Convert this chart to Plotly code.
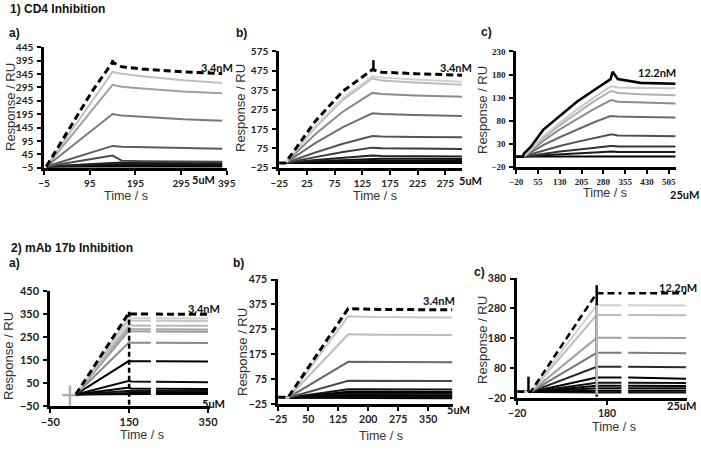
import plotly.graph_objects as go

W, H = 701, 451

# ------------------------------------------------------------------ data
# 1) CD4 inhibition, panel a  (first row = 3.4nM, last row = 5uM)
T_1A = [0, 50, 100, 145, 165, 210, 300, 385]
R_1A = [
    [0, 140, 280, 389, 372, 364, 353, 347],
    [0, 122, 243, 353, 346, 337, 322, 312],
    [0, 104, 208, 305, 298, 291, 280, 273],
    [0, 67, 133, 196, 190, 185, 176, 171],
    [0, 26, 52, 77, 74, 72, 69, 66],
    [0, 14, 28, 41, 22, 20, 19, 18],
    [0, 5, 10, 15, 15, 15, 14, 14],
    [0, 3, 6, 9, 9, 9, 9, 9],
    [0, 1, 3, 4, 5, 5, 4, 4],
    [0, 0, 0, 0, 0, 0, 0, 0],
]
# panel b
T_1B = [-25, -14, 40, 90, 143, 160, 220, 305]
R_1B = [
    [0, 0, 215, 370, 481, 468, 460, 452],
    [0, 0, 190, 335, 447, 440, 430, 418],
    [0, 0, 182, 325, 435, 425, 415, 403],
    [0, 0, 148, 265, 361, 355, 348, 341],
    [0, 0, 102, 185, 256, 252, 247, 242],
    [0, 0, 54, 99, 139, 136, 134, 132],
    [0, 0, 30, 56, 79, 76, 74, 72],
    [0, 0, 15, 27, 38, 36, 34, 33],
    [0, 0, 9, 16, 22, 22, 22, 21],
    [0, 0, 5, 9, 12, 12, 12, 12],
    [0, 0, 2, 4, 5, 5, 5, 5],
    [0, 0, 0, 0, 0, 0, 0, 0],
]
# panel c
T_1C = [-20, 4, 6, 30, 73, 130, 189, 250, 305, 312, 330, 408, 528]
R_1C = [
    [2, 2, 8, 23, 60, 91, 121, 147, 170, 186, 170, 162, 160],
    [2, 2, 2, 17, 45, 75, 104, 131, 154, 154, 152, 151, 150],
    [2, 2, 2, 16, 42, 70, 97, 123, 144, 144, 140, 137, 135],
    [2, 2, 2, 14, 36, 61, 84, 106, 124, 124, 121, 119, 117],
    [2, 2, 2, 11, 27, 44, 61, 77, 90, 90, 89, 88, 87],
    [2, 2, 2, 7, 15, 25, 34, 43, 50, 50, 48, 47, 46],
    [2, 2, 2, 4, 8, 13, 17, 22, 25, 25, 24, 24, 24],
    [2, 2, 2, 3, 5, 7, 9, 11, 13, 13, 12, 12, 12],
    [2, 2, 2, 2, 2, 2, 2, 2, 2, 2, 2, 2, 2],
]
# 2) mAb 17b inhibition, panel a
T_2A = [15, 150, 155, 205, 210, 218, 350]
R_2A = [
    [0, 358, 352, 351, None, 351, 350],
    [0, 340, 334, 333, None, 333, 332],
    [0, 328, 323, 322, None, 322, 321],
    [0, 305, 301, 300, None, 300, 300],
    [0, 290, 286, 285, None, 285, 284],
    [0, 280, 276, 275, None, 275, 274],
    [0, 228, 226, 226, None, 226, 225],
    [0, 147, 145, 145, None, 145, 144],
    [0, 60, 57, 56, None, 55, 53],
    [0, 30, 26, 25, None, 25, 24],
    [0, 18, 16, 15, None, 15, 15],
    [0, 8, 8, 8, None, 8, 8],
    [0, 2, 2, 2, None, 2, 2],
]
BASE_2A_T = [-20, 20]
BASE_2A_R = [-3, -3]
# panel b
T_2B = [-25, 0, 150, 215, 410]
R_2B = [
    [2, 2, 358, 355, 353],
    [0, 0, 327, 324, 322],
    [0, 0, 255, 253, 252],
    [0, 0, 144, 143, 142],
    [0, 0, 68, 68, 67],
    [0, 0, 34, 34, 33],
    [0, 0, 24, 24, 23],
    [0, 0, 18, 17, 17],
    [0, 0, 11, 11, 10],
    [0, 0, 4, 4, 4],
    [0, 0, -2, -2, -2],
]
# panel c
T_2C = [-20, 5, 10, 157, 160, 212, 218, 227, 290, 356]
R_2C = [
    [1, 1, 0, 331, 331, 331, None, 331, 331, 331],
    [1, 1, 0, 291, 291, 291, None, 291, 291, 290],
    [1, 1, 0, 258, 258, 258, None, 258, 258, 257],
    [1, 1, 0, 182, 182, 182, None, 182, 182, 181],
    [1, 1, 0, 131, 131, 131, None, 131, 131, 130],
    [1, 1, 0, 84, 84, 84, None, 84, 84, 83],
    [1, 1, 0, 48, 48, 48, None, 48, 46, 44],
    [1, 1, 0, 31, 31, 31, None, 31, 31, 30],
    [1, 1, 0, 21, 21, 21, None, 21, 21, 20],
    [1, 1, 0, 12, 12, 12, None, 12, 12, 12],
    [1, 1, 0, 4, 4, 4, None, 4, 4, 4],
    [1, 1, 0, -2, -2, -2, None, -2, -2, -2],
]
# injection artefacts (time, low RU, high RU)
SPIKES_1A = [(145, 380, 398)]
SPIKES_1B = [(145, 481, 530)]
SPIKES_2A = [(0, -50, 40), (150, -45, 365)]
SPIKES_2C = [(5, 0, 51), (157, -16, 358), (157, -10, 291)]

# ------------------------------------------------------------------ styles
C_1A = ["#000000", "#c0c0c0", "#a0a0a0", "#7a7a7a", "#5c5c5c", "#4a4a4a",
        "#1e1e1e", "#141414", "#0a0a0a", "#000000"]
C_1B = ["#000000", "#d2d2d2", "#bcbcbc", "#8a8a8a", "#6e6e6e", "#555555",
        "#3a3a3a", "#222222", "#111111", "#0a0a0a", "#050505", "#000000"]
C_1C = ["#000000", "#c8c8c8", "#b0b0b0", "#8c8c8c", "#6a6a6a", "#505050",
        "#333333", "#1a1a1a", "#000000"]
C_2A = ["#000000", "#d0d0d0", "#c4c4c4", "#b4b4b4", "#a8a8a8", "#9a9a9a",
        "#8a8a8a", "#000000", "#0a0a0a", "#000000", "#111111", "#000000", "#0a0a0a"]
C_2B = ["#000000", "#c8c8c8", "#bcbcbc", "#6a6a6a", "#4a4a4a", "#111111",
        "#000000", "#111111", "#000000", "#0a0a0a", "#000000"]
C_2C = ["#000000", "#d0d0d0", "#bdbdbd", "#a0a0a0", "#7a7a7a", "#2a2a2a",
        "#000000", "#111111", "#000000", "#0a0a0a", "#000000", "#111111"]
SPIKE_C_2A = ["#b0b0b0", "#000000"]
SPIKE_C_2C = ["#000000", "#000000", "#bdbdbd"]

SANS = "Liberation Sans"
TICKF = "Lato"
SERIF = "Liberation Serif"

# panel boxes in pixels: (left, right), (top, bottom)
PANELS = [
    dict(key="1a", T=T_1A, R=R_1A, C=C_1A, S=SPIKES_1A, SC=["#000000"],
         px=(44, 227), py=(47, 168), xr=[-5, 395.5], yr=[-5.5, 446],
         xt0=-5, xdt=100, yt0=-5, ydt=50, tf=TICKF, ts=10, dashw=3),
    dict(key="1b", T=T_1B, R=R_1B, C=C_1B, S=SPIKES_1B, SC=["#000000"],
         px=(279, 462), py=(51, 168), xr=[-25.5, 305], yr=[-26, 577],
         xt0=-25, xdt=50, yt0=-25, ydt=100, tf=TICKF, ts=10, dashw=3),
    dict(key="1c", T=T_1C, R=R_1C, C=C_1C, S=[], SC=[],
         px=(516, 676), py=(51, 167), xr=[-20.5, 530], yr=[-20.5, 231],
         xt0=-20, xdt=75, yt0=-20, ydt=50, tf=SERIF, ts=9, dashw=None),
    dict(key="2a", T=T_2A, R=R_2A, C=C_2A, S=SPIKES_2A, SC=SPIKE_C_2A,
         px=(50, 210), py=(291, 406), xr=[-50.5, 355], yr=[-50.5, 452],
         xt0=-50, xdt=200, yt0=-50, ydt=100, tf=TICKF, ts=11, dashw=3),
    dict(key="2b", T=T_2B, R=R_2B, C=C_2B, S=[], SC=[],
         px=(278, 453), py=(279, 404), xr=[-25.5, 412], yr=[-25.5, 477],
         xt0=-25, xdt=75, yt0=-25, ydt=100, tf=TICKF, ts=10.5, dashw=3),
    dict(key="2c", T=T_2C, R=R_2C, C=C_2C, S=SPIKES_2C, SC=SPIKE_C_2C,
         px=(517, 687), py=(278, 398), xr=[-20.5, 358], yr=[-20.5, 382],
         xt0=-20, xdt=200, yt0=-20, ydt=100, tf=TICKF, ts=10.5, dashw=2.5),
]

fig = go.Figure()
layout = dict(template="none", width=W, height=H, margin=dict(l=0, r=0, t=0, b=0, pad=0),
              paper_bgcolor="white", plot_bgcolor="white", showlegend=False)

for i, p in enumerate(PANELS, start=1):
    xa = "x" if i == 1 else f"x{i}"
    ya = "y" if i == 1 else f"y{i}"
    n = len(p["R"])
    if p["key"] == "2a":
        fig.add_trace(go.Scatter(x=BASE_2A_T, y=BASE_2A_R, mode="lines",
                                 line=dict(color="#b0b0b0", width=2.5),
                                 xaxis=xa, yaxis=ya, hoverinfo="skip"))
    # draw from the 5uM curve upward so the dashed top curve ends on top
    for j in reversed(range(n)):
        top = j == 0
        if top and p["dashw"]:
            line = dict(color=p["C"][j], width=p["dashw"], dash="7px,4px")
        else:
            line = dict(color=p["C"][j], width=2.6 if top else 2)
        fig.add_trace(go.Scatter(x=p["T"], y=p["R"][j], mode="lines", line=line,
                                 xaxis=xa, yaxis=ya, connectgaps=False,
                                 hoverinfo="skip"))
    for (t, lo, hi), c in zip(p["S"], p["SC"]):
        fig.add_trace(go.Scatter(x=[t, t], y=[lo, hi], mode="lines",
                                 line=dict(color=c, width=2.5,
                                           dash="5px,3px" if (p["key"] == "2a" and c == "#000000") else "solid"),
                                 xaxis=xa, yaxis=ya, hoverinfo="skip"))
    common = dict(showline=True, linecolor="black", linewidth=2.5, ticks="outside",
                  ticklen=4, tickwidth=2, tickcolor="black", showgrid=False,
                  zeroline=False, fixedrange=True, automargin=False,
                  tickfont=dict(family=p["tf"], size=p["ts"], color="#222222", weight="bold"))
    layout["xaxis" if i == 1 else f"xaxis{i}"] = dict(
        domain=[p["px"][0] / W, p["px"][1] / W], range=p["xr"], tick0=p["xt0"],
        dtick=p["xdt"], anchor=ya, ticklabelstandoff=0, **common)
    layout["yaxis" if i == 1 else f"yaxis{i}"] = dict(
        domain=[1 - p["py"][1] / H, 1 - p["py"][0] / H], range=p["yr"], tick0=p["yt0"],
        dtick=p["ydt"], anchor=xa, ticklabelstandoff=2, **common)


def ann(text, px, py, size=11, family=SANS, bold=True, xanchor="center", angle=0,
        color="#111111"):
    return dict(text=f"<b>{text}</b>" if bold else text, x=px / W, y=1 - py / H,
                xref="paper", yref="paper", showarrow=False, xanchor=xanchor,
                yanchor="middle", textangle=angle,
                font=dict(family=family, size=size, color=color))


annotations = [
    ann("1) CD4 Inhibition", 8, 9, size=12, xanchor="left"),
    ann("2) mAb 17b Inhibition", 9, 248, size=12, xanchor="left"),
    ann("a)", 7, 33, size=12, xanchor="left"),
    ann("b)", 234, 33, size=12, xanchor="left"),
    ann("c)", 479, 32, size=12, xanchor="left"),
    ann("a)", 7, 263, size=12, xanchor="left"),
    ann("b)", 231, 263, size=12, xanchor="left"),
    ann("c)", 472, 272, size=12, xanchor="left"),
]
for px_, py_ in [(10, 107), (240, 108), (482, 110), (8, 356), (242, 352), (482, 340)]:
    annotations.append(ann("Response / RU", px_, py_, size=13, bold=False, angle=-90,
                           color="#333333"))
for px_, py_ in [(126, 196), (375, 196), (605, 193), (142, 435), (381, 436), (614, 427)]:
    annotations.append(ann("Time / s", px_, py_, size=12.5, bold=False, color="#333333"))
for txt, px_, py_ in [("3.4nM", 217, 67), ("5uM", 203, 179), ("3.4nM", 456, 67),
                      ("5uM", 471, 180), ("12.2nM", 657, 72), ("25uM", 684, 194),
                      ("3.4nM", 204, 308), ("5uM", 213, 403), ("3.4nM", 439, 300),
                      ("5uM", 459, 409), ("12.2nM", 678, 287), ("25uM", 681, 405)]:
    annotations.append(ann(txt, px_, py_, size=11, family=TICKF))

layout["annotations"] = annotations
fig.update_layout(**layout)
fig.write_html("out.html", config={"displayModeBar": False},
               post_script="document.body.style.margin='0';")
